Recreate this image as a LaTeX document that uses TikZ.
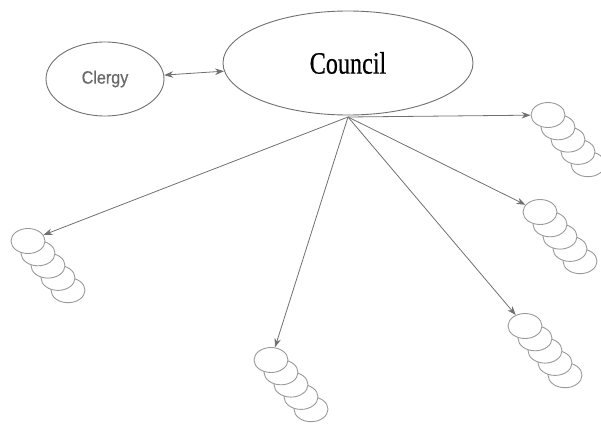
\documentclass[tikz,border=0pt]{standalone}
\usepackage{fontspec}
\usetikzlibrary{shapes.geometric,arrows.meta}
\newfontfamily\councilfont[FakeBold=0.6]{Liberation Serif}
\newfontfamily\clergyfont[FakeBold=0.5]{Liberation Sans}
\definecolor{linegray}{HTML}{707070}
\definecolor{coilgray}{HTML}{9A9A9A}
\definecolor{textgray}{HTML}{6A6A6A}
\tikzset{
  bigoval/.style={draw=linegray, line width=0.9pt, ellipse, inner sep=0pt},
  coiloval/.style={draw=coilgray, fill=white, line width=0.9pt, ellipse, inner sep=0pt, minimum width=34pt, minimum height=25pt},
  conn/.style={draw=linegray, line width=0.8pt, -{Stealth[length=9pt,width=6.5pt]}},
  biconn/.style={draw=linegray, line width=0.8pt, {Stealth[length=9pt,width=6.5pt]}-{Stealth[length=9pt,width=6.5pt]}}
}
\newcommand{\coilstack}[3]{%
  \foreach \i in {4,3,2,1,0}{
    \node[coiloval] (#1-\i) at (#2+10*\i, #3+12.3*\i) {};
  }%
}
\begin{document}
\begin{tikzpicture}[x=1pt,y=-1pt]
\useasboundingbox (0,0) rectangle (601,425);
\node[bigoval, minimum width=250pt, minimum height=104pt] (council) at (348,63)
  {\councilfont\fontsize{31}{31}\selectfont\scalebox{0.78}[1]{Council}};
\node[bigoval, minimum width=118pt, minimum height=74pt] (clergy) at (105,79)
  {\clergyfont\fontsize{17}{17}\selectfont\color{textgray}\scalebox{0.95}[1.05]{Clergy}};
\draw[biconn] (clergy) -- (council);
\coordinate (src) at (348,117);
\coilstack{rt}{548}{115}
\coilstack{lf}{28}{241}
\coilstack{bt}{271}{360}
\coilstack{rm}{540}{212}
\coilstack{rb}{525}{326}
\draw[conn] (src) -- (rt-0);
\draw[conn] (src) -- (lf-0);
\draw[conn] (src) -- (bt-0);
\draw[conn] (src) -- (rm-0);
\draw[conn] (src) -- (rb-0);
\end{tikzpicture}
\end{document}
